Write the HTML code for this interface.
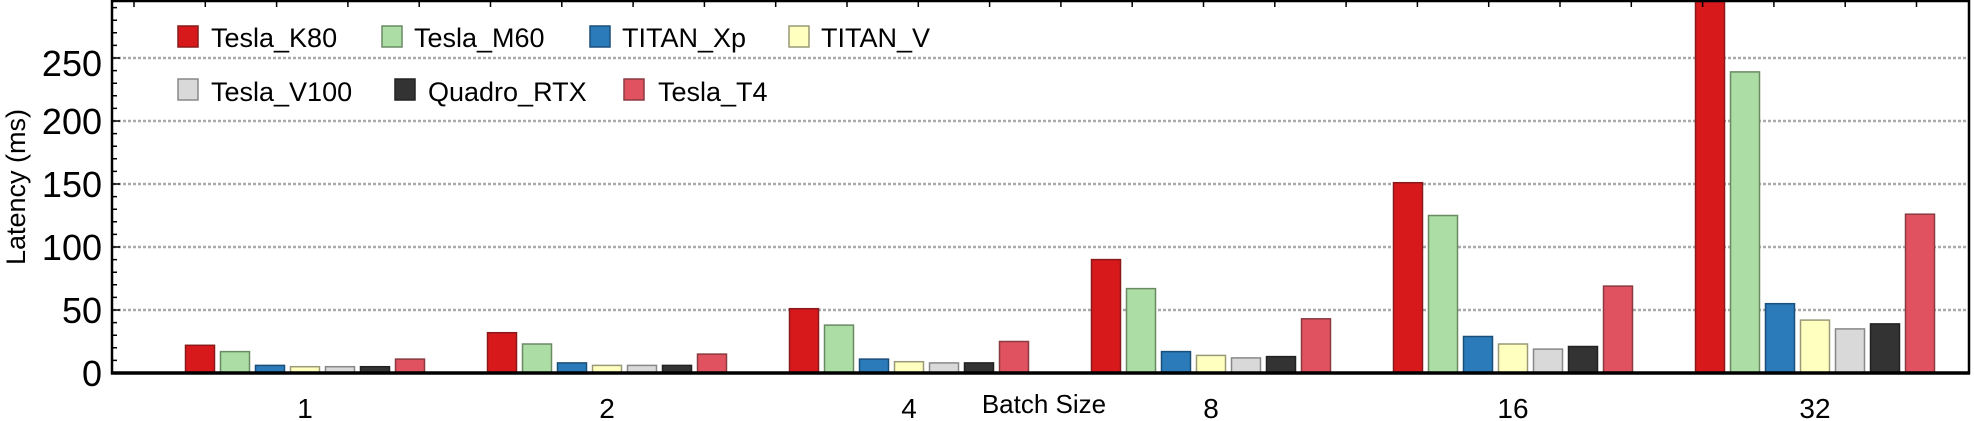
<!DOCTYPE html>
<html><head><meta charset="utf-8"><style>
html,body{margin:0;padding:0;background:#fff}
svg{display:block}
text{font-family:"Liberation Sans",sans-serif;fill:#000}
</style></head><body>
<svg width="1974" height="421" viewBox="0 0 1974 421" xmlns="http://www.w3.org/2000/svg">
<g stroke="#aaa" stroke-width="2.5" stroke-dasharray="3,2">
<line x1="113" x2="1968" y1="310" y2="310"/>
<line x1="113" x2="1968" y1="247" y2="247"/>
<line x1="113" x2="1968" y1="184" y2="184"/>
<line x1="113" x2="1968" y1="121" y2="121"/>
<line x1="113" x2="1968" y1="58" y2="58"/>
</g>
<g stroke-width="1.5">
<g fill="#d7191c" stroke="#8a1a1a">
<rect x="185.5" y="345.3" width="29" height="27.7"/>
<rect x="487.5" y="332.7" width="29" height="40.3"/>
<rect x="789.5" y="308.7" width="29" height="64.3"/>
<rect x="1091.5" y="259.6" width="29" height="113.4"/>
<rect x="1393.5" y="182.7" width="29" height="190.3"/>
<rect x="1695.5" y="0" width="29" height="373"/>
</g>
<g fill="#abdda4" stroke="#6a8a64">
<rect x="220.5" y="351.6" width="29" height="21.4"/>
<rect x="522.5" y="344" width="29" height="29"/>
<rect x="824.5" y="325.1" width="29" height="47.9"/>
<rect x="1126.5" y="288.6" width="29" height="84.4"/>
<rect x="1428.5" y="215.5" width="29" height="157.5"/>
<rect x="1730.5" y="71.9" width="29" height="301.1"/>
</g>
<g fill="#2b7bba" stroke="#1a4f7a">
<rect x="255.5" y="365.4" width="29" height="7.6"/>
<rect x="557.5" y="362.9" width="29" height="10.1"/>
<rect x="859.5" y="359.1" width="29" height="13.9"/>
<rect x="1161.5" y="351.6" width="29" height="21.4"/>
<rect x="1463.5" y="336.5" width="29" height="36.5"/>
<rect x="1765.5" y="303.7" width="29" height="69.3"/>
</g>
<g fill="#ffffbf" stroke="#999977">
<rect x="290.5" y="366.7" width="29" height="6.3"/>
<rect x="592.5" y="365.4" width="29" height="7.6"/>
<rect x="894.5" y="361.7" width="29" height="11.3"/>
<rect x="1196.5" y="355.4" width="29" height="17.6"/>
<rect x="1498.5" y="344" width="29" height="29"/>
<rect x="1800.5" y="320.1" width="29" height="52.9"/>
</g>
<g fill="#d9d9d9" stroke="#888888">
<rect x="325.5" y="366.7" width="29" height="6.3"/>
<rect x="627.5" y="365.4" width="29" height="7.6"/>
<rect x="929.5" y="362.9" width="29" height="10.1"/>
<rect x="1231.5" y="357.9" width="29" height="15.1"/>
<rect x="1533.5" y="349.1" width="29" height="23.9"/>
<rect x="1835.5" y="328.9" width="29" height="44.1"/>
</g>
<g fill="#333333" stroke="#222222">
<rect x="360.5" y="366.7" width="29" height="6.3"/>
<rect x="662.5" y="365.4" width="29" height="7.6"/>
<rect x="964.5" y="362.9" width="29" height="10.1"/>
<rect x="1266.5" y="356.6" width="29" height="16.4"/>
<rect x="1568.5" y="346.5" width="29" height="26.5"/>
<rect x="1870.5" y="323.9" width="29" height="49.1"/>
</g>
<g fill="#e0525f" stroke="#8a3a40">
<rect x="395.5" y="359.1" width="29" height="13.9"/>
<rect x="697.5" y="354.1" width="29" height="18.9"/>
<rect x="999.5" y="341.5" width="29" height="31.5"/>
<rect x="1301.5" y="318.8" width="29" height="54.2"/>
<rect x="1603.5" y="286.1" width="29" height="86.9"/>
<rect x="1905.5" y="214.2" width="29" height="158.8"/>
</g>
</g>
<path stroke="#000" stroke-width="1.5" fill="none" d="M134 1v6M205.3 1v6M276.6 1v6M347.9 1v6M419.2 1v6M490.5 1v6M561.8 1v6M633.1 1v6M704.4 1v6M775.7 1v6M847 1v6M918.3 1v6M989.6 1v6M1060.9 1v6M1132.2 1v6M1203.5 1v6M1274.8 1v6M1346.1 1v6M1417.4 1v6M1488.7 1v6M1560 1v6M1631.3 1v6M1702.6 1v6M1773.9 1v6M1845.2 1v6M1916.5 1v6
M112 360.4h5M112 347.8h5M112 335.2h5M112 322.6h5M112 310h8M112 297.4h5M112 284.8h5M112 272.2h5M112 259.6h5M112 247h8M112 234.4h5M112 221.8h5M112 209.2h5M112 196.6h5M112 184h8M112 171.4h5M112 158.8h5M112 146.2h5M112 133.6h5M112 121h8M112 108.4h5M112 95.8h5M112 83.2h5M112 70.6h5M112 58h8M112 45.4h5M112 32.8h5M112 20.2h5M112 7.6h5"/>
<rect x="112" y="1" width="1857" height="372" fill="none" stroke="#000" stroke-width="2.5"/>
<line x1="111" x2="1970" y1="373" y2="373" stroke="#000" stroke-width="3.5"/>
<g font-size="36" text-anchor="end">
<text x="102" y="386">0</text>
<text x="102" y="323">50</text>
<text x="102" y="260">100</text>
<text x="102" y="197">150</text>
<text x="102" y="134">200</text>
<text x="102" y="76">250</text>
</g>
<g font-size="28" text-anchor="middle">
<text x="305" y="418">1</text>
<text x="607" y="418">2</text>
<text x="909" y="418">4</text>
<text x="1211" y="418">8</text>
<text x="1513" y="418">16</text>
<text x="1815" y="418">32</text>
</g>
<text x="1044" y="413" font-size="26" text-anchor="middle">Batch Size</text>
<text transform="translate(25,187) rotate(-90)" font-size="27" text-anchor="middle">Latency (ms)</text>
<g font-size="27" stroke-width="1.5">
<rect x="178" y="26" width="20" height="21" fill="#d7191c" stroke="#8a1a1a"/><text x="211" y="47">Tesla_K80</text>
<rect x="382" y="26" width="20" height="21" fill="#abdda4" stroke="#6a8a64"/><text x="414" y="47">Tesla_M60</text>
<rect x="590" y="26" width="20" height="21" fill="#2b7bba" stroke="#1a4f7a"/><text x="622" y="47">TITAN_Xp</text>
<rect x="789" y="26" width="20" height="21" fill="#ffffbf" stroke="#999977"/><text x="821" y="47">TITAN_V</text>
<rect x="178" y="79" width="20" height="21" fill="#d9d9d9" stroke="#888"/><text x="211" y="101">Tesla_V100</text>
<rect x="395" y="79" width="20" height="21" fill="#333" stroke="#222"/><text x="428" y="101">Quadro_RTX</text>
<rect x="624" y="79" width="20" height="21" fill="#e0525f" stroke="#8a3a40"/><text x="658" y="101">Tesla_T4</text>
</g>
</svg>
</body></html>
